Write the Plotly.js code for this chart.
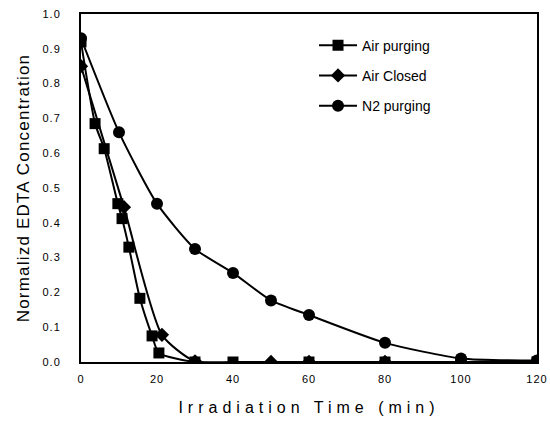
<!DOCTYPE html>
<html>
<head>
<meta charset="utf-8">
<script src="https://cdn.plot.ly/plotly-3.0.1.min.js"></script>
<style>
html,body{margin:0;padding:0;background:#fff}
#chart{width:550px;height:430px}
#chart text.xtitle{letter-spacing:5px}
#chart text.ytitle{letter-spacing:1.2px}
#chart .ytick text, #chart .xtick text{letter-spacing:1px}
</style>
</head>
<body>
<div id="chart"></div>
<script>
// Data
var airPurgingX = [0, 3.7, 6.1, 9.7, 10.8, 12.6, 15.5, 18.7, 20.5, 30, 40, 60, 80, 100, 120];
var airPurgingY = [0.92, 0.685, 0.613, 0.455, 0.412, 0.33, 0.183, 0.075, 0.026, 0, 0, 0, 0, 0, 0];

var airClosedX = [0, 11.3, 21.3, 30, 50, 60, 80, 100, 120];
var airClosedY = [0.85, 0.445, 0.078, 0.002, 0, 0, 0, 0, 0];

var n2X = [0, 10, 20, 30, 40, 50, 60, 80, 100, 120];
var n2Y = [0.93, 0.66, 0.455, 0.325, 0.256, 0.177, 0.135, 0.055, 0.01, 0.004];

var seriesNames = ["Air purging", "Air Closed", "N2 purging"];
var yTickVals = [0, 0.1, 0.2, 0.3, 0.4, 0.5, 0.6, 0.7, 0.8, 0.9, 1.0];
var xTickVals = [0, 20, 40, 60, 80, 100, 120];

var lineStyle = {color: "#000", width: 2, shape: "spline", smoothing: 0.6};

var traces = [
  {x: airPurgingX, y: airPurgingY, name: seriesNames[0], legendgroup: "a", mode: "lines+markers", type: "scatter",
   line: lineStyle, marker: {symbol: "square", size: 11, color: "#000"}},
  {x: airClosedX, y: airClosedY, name: seriesNames[1], legendgroup: "b", mode: "lines+markers", type: "scatter",
   line: lineStyle, marker: {symbol: "diamond", size: 11, color: "#000"}},
  {x: n2X, y: n2Y, name: seriesNames[2], legendgroup: "c", mode: "lines+markers", type: "scatter",
   line: lineStyle, marker: {symbol: "circle", size: 12, color: "#000"}}
];

var layout = {
  width: 550, height: 430,
  margin: {l: 81, r: 13, t: 14, b: 68},
  paper_bgcolor: "#fff", plot_bgcolor: "#fff",
  font: {family: "Liberation Sans, Arial, sans-serif", color: "#000", size: 11},
  showlegend: true,
  legend: {x: 0.511, y: 0.955, xanchor: "left", yanchor: "top", bgcolor: "rgba(0,0,0,0)",
           font: {size: 14}, tracegroupgap: 9, itemwidth: 38},
  xaxis: {
    range: [0, 120], tickvals: xTickVals, showgrid: false, zeroline: false,
    showline: true, linecolor: "#000", linewidth: 2, mirror: true,
    ticks: "", tickfont: {size: 11}, ticklabelstandoff: 6,
    title: {text: "Irradiation Time (min)", font: {size: 16}, standoff: 18}
  },
  yaxis: {
    range: [0, 1.0], tickvals: yTickVals, tickformat: ".1f", showgrid: false, zeroline: false,
    showline: true, linecolor: "#000", linewidth: 2, mirror: true,
    ticks: "", tickfont: {size: 11}, ticklabelstandoff: 16,
    title: {text: "Normalizd EDTA Concentration", font: {size: 17}, standoff: 12}
  }
};

Plotly.newPlot("chart", traces, layout, {displayModeBar: false, staticPlot: true});
</script>
</body>
</html>
